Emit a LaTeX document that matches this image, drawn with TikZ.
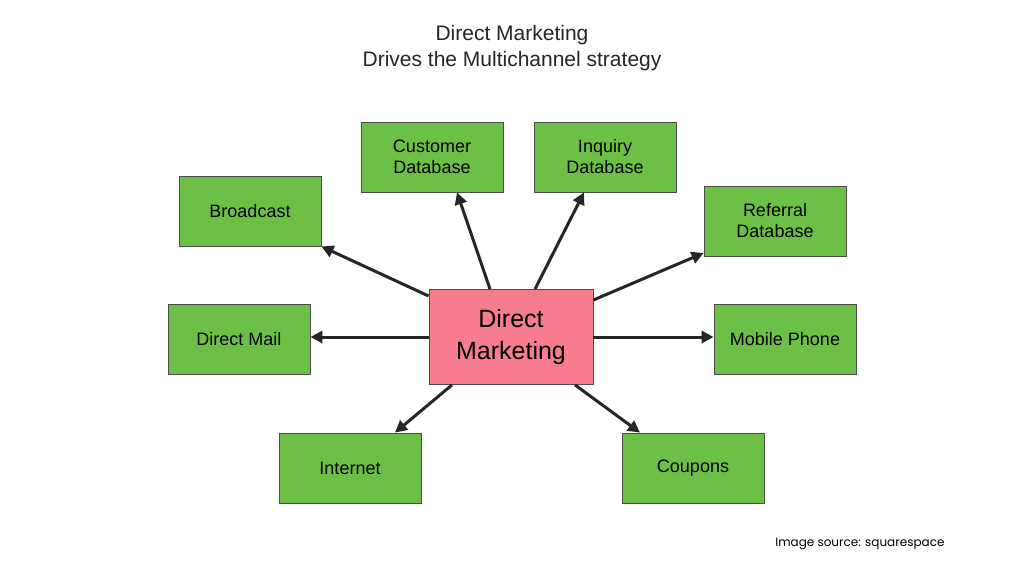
\documentclass[tikz,border=0pt]{standalone}
\usepackage{fontspec}
\setmainfont{Liberation Sans}
\newfontfamily\pop{Poppins}
\usetikzlibrary{arrows.meta}
\begin{document}
\begin{tikzpicture}[x=1pt,y=-1pt,
  gbox/.style={draw=black!70,line width=0.8pt,fill=gfill,minimum width=142pt,minimum height=70pt,align=center,font=\fontsize{18}{21}\selectfont,inner sep=0pt},
  arr/.style={-{Triangle[length=12pt,width=12pt]},line width=3pt,black!85}]
\definecolor{gfill}{HTML}{6DC046}
\definecolor{pfill}{HTML}{F77C8E}
\fill[white] (0,0) rectangle (1024,576);
\useasboundingbox (0,0) rectangle (1024,576);
\node[align=center,font=\fontsize{21}{26}\selectfont,text=black!85] (t) at (512,48) {Direct Marketing\\Drives the Multichannel strategy};
\node[draw=black!70,line width=0.8pt,fill=pfill,minimum width=164pt,minimum height=95pt,align=center,font=\fontsize{25}{32}\selectfont,inner sep=0pt] (dm) at (511,337) {Direct\\Marketing};
\node[gbox] (b) at (250,211) {Broadcast};
\node[gbox] (c) at (432,157) {Customer\\Database};
\node[gbox] (i) at (605,157) {Inquiry\\Database};
\node[gbox] (r) at (775,221) {Referral\\Database};
\node[gbox] (m) at (239,339) {Direct Mail};
\node[gbox] (p) at (785,339) {Mobile Phone};
\node[gbox] (n) at (350,468) {Internet};
\node[gbox] (k) at (693,468) {Coupons};
\draw[arr] ([yshift=41pt]dm.west) -- (b.south east);
\draw[arr] ([xshift=-21pt]dm.north) -- ([xshift=25pt]c.south);
\draw[arr] ([xshift=24pt]dm.north) -- ([xshift=-21pt]i.south);
\draw[arr] ([yshift=37pt]dm.east) -- ([yshift=-32pt]r.west);
\draw[arr] (dm.west) -- (m.east |- dm.west);
\draw[arr] (dm.east) -- (p.west |- dm.east);
\draw[arr] ([xshift=-59pt]dm.south) -- ([xshift=45pt]n.north);
\draw[arr] ([xshift=64pt]dm.south) -- ([xshift=-53pt]k.north);
\node[font=\pop\fontsize{12}{14}\selectfont,anchor=east] (s) at (948,544) {Image source: squarespace};
\end{tikzpicture}
\end{document}
